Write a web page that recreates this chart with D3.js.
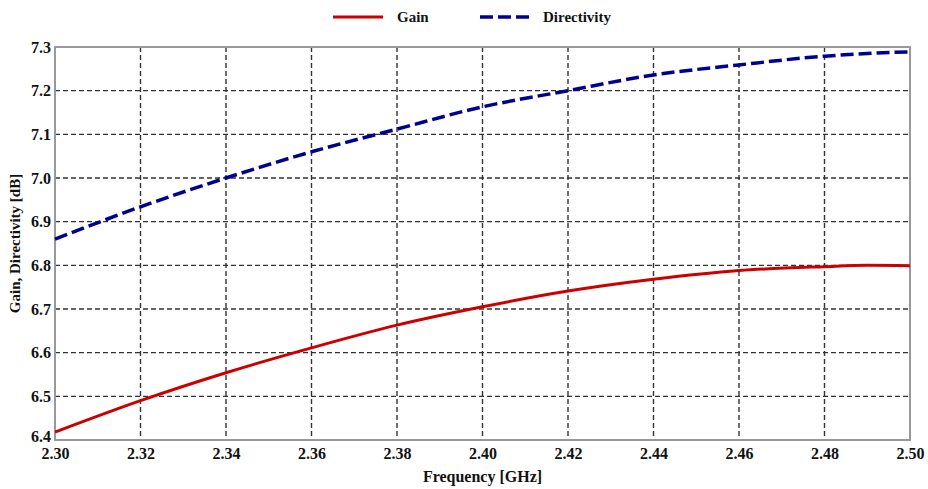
<!DOCTYPE html>
<html>
<head>
<meta charset="utf-8">
<script src="https://cdn.jsdelivr.net/npm/d3@7"></script>
<style>
  html, body { margin: 0; padding: 0; background: #fff; }
  svg text { font-family: "Liberation Serif", "Times New Roman", serif; font-weight: bold; fill: #111; }
</style>
</head>
<body>
<svg id="chart" width="928" height="489"></svg>
<script>
const frequency   = [2.30, 2.32, 2.34, 2.36, 2.38, 2.40, 2.42, 2.44, 2.46, 2.48, 2.49, 2.50];
const gain        = [6.418, 6.490, 6.554, 6.611, 6.663, 6.705, 6.741, 6.768, 6.788, 6.797, 6.800, 6.799];
const directivity = [6.860, 6.934, 7.000, 7.060, 7.112, 7.163, 7.200, 7.236, 7.259, 7.279, 7.285, 7.289];
const xTicks = [2.30, 2.32, 2.34, 2.36, 2.38, 2.40, 2.42, 2.44, 2.46, 2.48, 2.50];
const yTicks = [6.4, 6.5, 6.6, 6.7, 6.8, 6.9, 7.0, 7.1, 7.2, 7.3];
const seriesNames = ["Gain", "Directivity"];

const svg = d3.select("#chart");
const m = { left: 55, top: 47, right: 910, bottom: 440 };
const x = d3.scaleLinear().domain([2.30, 2.50]).range([m.left, m.right]);
const y = d3.scaleLinear().domain([6.4, 7.3]).range([m.bottom, m.top]);

// grid
const g = svg.append("g");
g.selectAll("line.vx").data(xTicks.slice(1, -1)).join("line")
  .attr("x1", d => x(d)).attr("x2", d => x(d))
  .attr("y1", m.top).attr("y2", m.bottom)
  .attr("stroke", "#333").attr("stroke-width", 1.4).attr("stroke-dasharray", "5,3");
g.selectAll("line.hy").data(yTicks.slice(1, -1)).join("line")
  .attr("x1", m.left).attr("x2", m.right)
  .attr("y1", d => y(d)).attr("y2", d => y(d))
  .attr("stroke", "#333").attr("stroke-width", 1.4).attr("stroke-dasharray", "5,3");

// frame
svg.append("rect").attr("x", m.left).attr("y", m.top)
  .attr("width", m.right - m.left).attr("height", m.bottom - m.top)
  .attr("fill", "none").attr("stroke", "#999").attr("stroke-width", 2);

// axes labels via d3 axis
const xAxis = d3.axisBottom(x).tickValues(xTicks).tickFormat(d3.format(".2f")).tickSize(0).tickPadding(8);
const yAxis = d3.axisLeft(y).tickValues(yTicks).tickFormat(d3.format(".1f")).tickSize(0).tickPadding(4);
const xa = svg.append("g").attr("transform", `translate(0,${m.bottom})`).call(xAxis);
const ya = svg.append("g").attr("transform", `translate(${m.left},0)`).call(yAxis);
[xa, ya].forEach(a => { a.select(".domain").remove(); a.selectAll("text").attr("font-size", 16); a.attr("font-family", null); });
ya.selectAll("text").filter(d => d === 6.4).attr("dy", "0.1em");

// curves
const pts = (arr) => frequency.map((f, i) => [f, arr[i]]);
const line = d3.line().x(d => x(d[0])).y(d => y(d[1])).curve(d3.curveMonotoneX);
svg.append("path").datum(pts(gain)).attr("d", line)
  .attr("fill", "none").attr("stroke", "#cc0000").attr("stroke-width", 3);
svg.append("path").datum(pts(directivity)).attr("d", line)
  .attr("fill", "none").attr("stroke", "#000090").attr("stroke-width", 3.5).attr("stroke-dasharray", "13,5");

// axis titles
svg.append("text").attr("x", (m.left + m.right) / 2).attr("y", 482)
  .attr("text-anchor", "middle").attr("font-size", 16).text("Frequency [GHz]");
svg.append("text").attr("transform", `translate(20,${(m.top + m.bottom) / 2}) rotate(-90)`)
  .attr("text-anchor", "middle").attr("font-size", 15).text("Gain, Directivity [dB]");

// legend
const leg = svg.append("g");
leg.append("line").attr("x1", 333).attr("x2", 383).attr("y1", 17).attr("y2", 17)
  .attr("stroke", "#cc0000").attr("stroke-width", 3);
leg.append("text").attr("x", 397).attr("y", 22).attr("font-size", 15).text(seriesNames[0]);
leg.append("line").attr("x1", 480).attr("x2", 531).attr("y1", 17).attr("y2", 17)
  .attr("stroke", "#000090").attr("stroke-width", 3.5).attr("stroke-dasharray", "13,5");
leg.append("text").attr("x", 543).attr("y", 22).attr("font-size", 15).text(seriesNames[1]);
</script>
</body>
</html>
